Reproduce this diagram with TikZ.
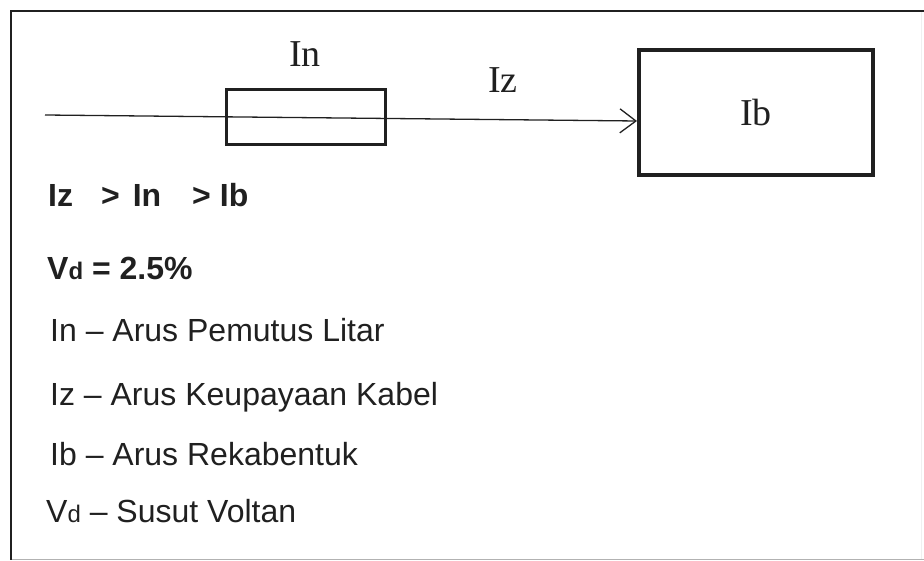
\documentclass[tikz,border=0pt]{standalone}
\usepackage{fontspec}
\setmainfont{Liberation Sans}
\newfontfamily\serifl{Liberation Serif}
\usetikzlibrary{arrows.meta}
\definecolor{ink}{HTML}{202020}
\tikzset{
  framel/.style={draw=ink, line width=2pt},
  framefaint/.style={draw=gray!60, line width=1.5pt},
  framefaint2/.style={draw=gray!12, line width=1pt},
  fusebox/.style={draw=ink, line width=3pt, minimum width=159pt, minimum height=55pt, inner sep=0pt},
  loadbox/.style={draw=ink, line width=4pt, minimum width=234pt, minimum height=125pt, inner sep=0pt, text=ink, font=\serifl\fontsize{38}{38}\selectfont},
  sertext/.style={font=\serifl\fontsize{38}{38}\selectfont, inner sep=0pt, anchor=base, text=ink},
  boldtext/.style={font=\bfseries\fontsize{32}{32}\selectfont, inner sep=0pt, anchor=base west, text=ink},
  sanstext/.style={font=\fontsize{32}{32}\selectfont, inner sep=0pt, anchor=base west, text=ink},
  wire/.style={draw=ink, line width=1.3pt, -{Straight Barb[length=16pt,width=24pt,line width=1.3pt]}}
}
\begin{document}
\begin{tikzpicture}[x=1pt,y=-1pt]
\useasboundingbox (0,0) rectangle (924,561);
\draw[framefaint2] (921,11) -- (921,560);
\draw[framefaint] (11,559.5) -- (924,559.5);
\draw[framel] (924,11) -- (11,11) -- (11,560);
\coordinate (start) at (45,115);
\node[fusebox] (fuse) at (306,117.5) {};
\node[loadbox] (load) at (756,112.5) {Ib};
\node[sertext] (lin) at (305,67) {In};
\node[sertext] (liz) at (503,93) {Iz};
\draw[wire] (start) -- ([yshift=-8.5pt]load.west);
\node[boldtext] (rel) at (48,207) {Iz\hspace{28pt}>\hspace{13pt}In\hspace{31pt}>\hspace{9pt}Ib};
\node[boldtext] (vd) at (47,280) {V{\fontsize{24}{24}\selectfont d} = 2.5\%};
\node[sanstext] (l1) at (50,342) {In – Arus Pemutus Litar};
\node[sanstext] (l2) at (50,405) {Iz – Arus Keupayaan Kabel};
\node[sanstext] (l3) at (50,465) {Ib – Arus Rekabentuk};
\node[sanstext] (l4) at (46,522) {V{\fontsize{24}{24}\selectfont d} – Susut Voltan};
\end{tikzpicture}
\end{document}
